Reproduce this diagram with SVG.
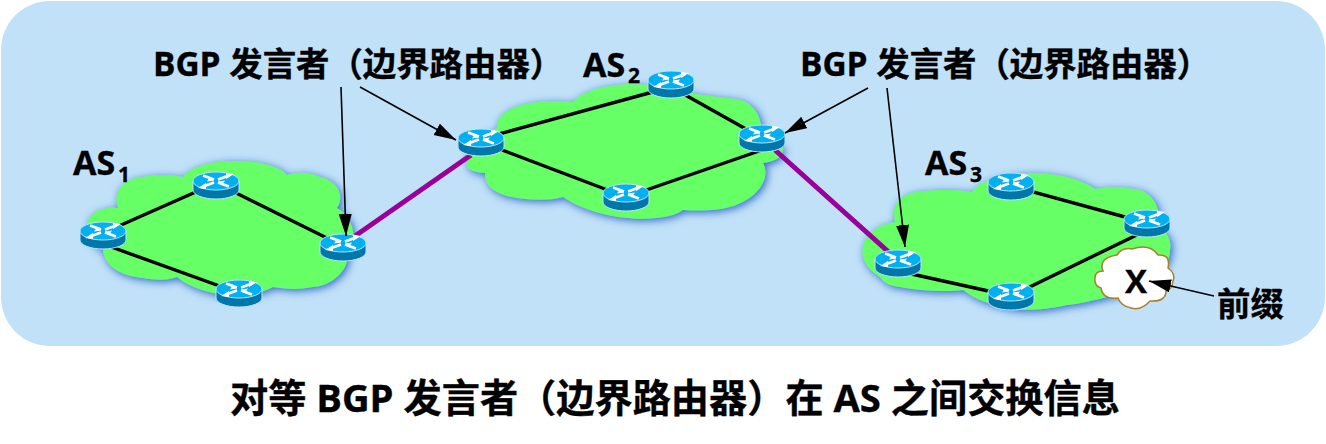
<svg xmlns="http://www.w3.org/2000/svg" width="1326" height="444" viewBox="0 0 1326 444">
<style>
text{font-family:"Open Sans","Noto Sans CJK SC",sans-serif;font-weight:700;fill:#000;stroke:#000;stroke-width:.35px}
.t{font-size:33.4px}
.a{font-size:34px}
.s{font-size:21px}
.cloud{fill:#66ff66;filter:url(#sh)}
.link{stroke:#000;stroke-width:3.4;fill:none}
.peer{stroke:#990099;stroke-width:5;fill:none}
.arrow{stroke:#000;stroke-width:1.6;fill:none;marker-end:url(#ah)}
</style>
<defs>
<filter id="sh" x="-10%" y="-10%" width="120%" height="125%"><feDropShadow dx="2" dy="2" stdDeviation="4" flood-color="#2f68c4" flood-opacity="1"/></filter>
<marker id="ah" markerUnits="userSpaceOnUse" markerWidth="24" markerHeight="14" refX="22" refY="6.5" orient="auto"><path d="M0 0L22 6.500L0 13z" fill="#000"/></marker>
<g id="r">
<path d="M-23-4V5A23 9 0 0 0 23 5V-4z" fill="#0077aa" stroke="#b8e4f8" stroke-width="1"/>
<ellipse cx="0" cy="-4" rx="23" ry="9" fill="#00b0f0" stroke="#b8e4f8" stroke-width="1"/>
<path d="M-13-9.500L-2-5.500M2-2.500L13 1.500M13-9.500L2-5.500M-2-2.500L-13 1.500" stroke="#fff" stroke-width="2.8" fill="none"/>
<path d="M-2-4.500L-9-3.500L-6-8zM2-3.500L9-4.500L6 0zM18-11L10-12L10-6zM-18 3L-10 4L-10-2z" fill="#fff"/>
</g>
</defs>
<rect x="1" y="1" width="1324" height="345" rx="49" fill="#c1e1f8"/>
<g id="as1-cloud"><path class="cloud" d="M90 217C97 209 108 207 118 208C112 190 125 178 143 177C157 174 172 175 183 177C195 157 270 155 287 175C300 171 312 173 320 177C338 181 345 196 337 208C350 215 356 232 352 240C354 248 350 252 347 255C350 270 330 287 313 287C298 290 285 289 273 287C255 298 205 300 177 277C165 281 155 280 143 278C120 276 104 265 103 250C88 246 84 225 90 217z"/></g>
<g id="as2-cloud"><path class="cloud" d="M467 163C462 150 480 135 497 128C495 110 525 98 573 102C595 78 660 82 690 93C705 96 725 97 740 100C755 103 765 122 760 137C772 142 785 146 783 150C783 158 772 162 763 163C772 180 755 200 730 207C715 211 700 211 683 210C670 222 605 225 563 197C548 201 532 200 517 198C495 195 484 185 485 173C475 172 465 170 467 163z"/></g>
<g id="as3-cloud"><path class="cloud" d="M863 247C866 232 880 224 895 222C890 200 905 192 925 191C945 189 960 190 972 192C985 170 1060 165 1095 189C1110 186 1125 187 1140 190C1155 195 1162 212 1158 227C1168 232 1172 242 1170 250C1170 270 1150 280 1130 290C1125 293 1115 296 1107 297C1095 300 1080 304 1067 305C1040 311 1015 311 1003 307C985 303 972 297 963 290C945 292 920 291 900 287C890 286 884 283 880 277C868 270 860 258 863 247z"/></g>
<g id="connectors">
<path class="link" d="M103 233L216 183M216 183L343 246M103 244L239 293"/>
<path class="link" d="M481 139L671 87M671 87L762 138M481 142L626 197M626 197L762 150"/>
<path class="link" d="M898 271L1011 296M1011 186L1147 223M1147 230L1011 296"/>
<path class="peer" d="M355 236L471 155M775 150L892 255"/>
</g>
<g id="prefix-cloud"><path d="M1095 278Q1095 271 1103 271Q1098 258 1117 255Q1122 247 1132 249Q1150 243 1158 255Q1171 254 1168 268Q1176 274 1173 281Q1172 290 1166 291Q1166 302 1150 301Q1141 311 1131 308Q1121 306 1118 298Q1103 300 1101 288Q1094 286 1095 278z" fill="#fff" stroke="#a88030" stroke-width="1.5"/><text x="1136" y="293" font-size="33" text-anchor="middle">X</text></g>
<g id="r1"><use href="#r" x="103" y="235"/></g>
<g id="r2"><use href="#r" x="216" y="185"/></g>
<g id="r3"><use href="#r" x="343" y="247"/></g>
<g id="r4"><use href="#r" x="239" y="293"/></g>
<g id="r5"><use href="#r" x="481" y="142"/></g>
<g id="r6"><use href="#r" x="671" y="84"/></g>
<g id="r7"><use href="#r" x="762" y="138"/></g>
<g id="r8"><use href="#r" x="626" y="197"/></g>
<g id="r9"><use href="#r" x="898" y="263"/></g>
<g id="r10"><use href="#r" x="1011" y="186"/></g>
<g id="r11"><use href="#r" x="1147" y="223"/></g>
<g id="r12"><use href="#r" x="1011" y="296"/></g>
<g id="arrows">
<path class="arrow" d="M341 87L346 236"/>
<path class="arrow" d="M360 87L456 140"/>
<path class="arrow" d="M868 88L785 133"/>
<path class="arrow" d="M887 88L905 247"/>
<path class="arrow" d="M1214 296L1149 281"/>
</g>
<g id="labels">
<text class="a" x="73" y="175">AS</text><text class="s" x="118" y="182">1</text>
<text class="a" x="583" y="77">AS</text><text class="s" x="628" y="83">2</text>
<text class="a" x="925" y="175">AS</text><text class="s" x="970" y="182">3</text>
<text class="t" x="153" y="76">BGP 发言者（边界路由器）</text>
<text class="t" x="800" y="76">BGP 发言者（边界路由器）</text>
<text class="t" x="1217" y="316">前缀</text>
<text x="230" y="412" font-size="38.2">对等 BGP 发言者（边界路由器）在 AS 之间交换信息</text>
</g>
</svg>
